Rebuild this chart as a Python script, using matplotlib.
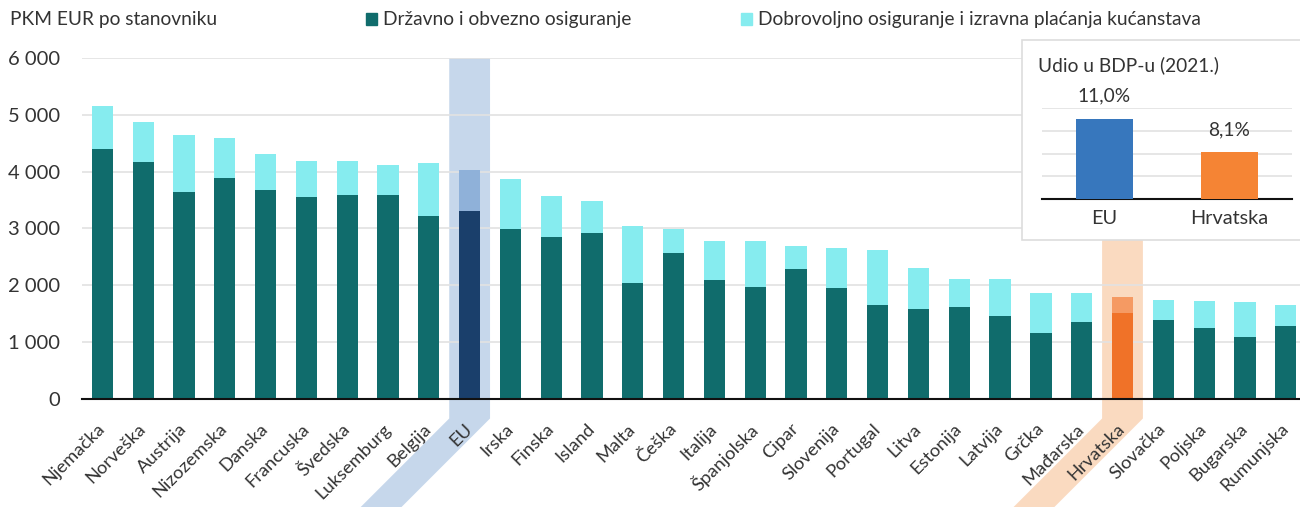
import matplotlib.pyplot as plt
from matplotlib.patches import Polygon, Rectangle, Patch
from matplotlib.transforms import IdentityTransform

plt.rcParams['font.family'] = ['Lato', 'DejaVu Sans']
plt.rcParams['text.color'] = '#333333'

zemlje = ['Njemačka', 'Norveška', 'Austrija', 'Nizozemska', 'Danska', 'Francuska',
          'Švedska', 'Luksemburg', 'Belgija', 'EU', 'Irska', 'Finska', 'Island',
          'Malta', 'Češka', 'Italija', 'Španjolska', 'Cipar', 'Slovenija',
          'Portugal', 'Litva', 'Estonija', 'Latvija', 'Grčka', 'Mađarska',
          'Hrvatska', 'Slovačka', 'Poljska', 'Bugarska', 'Rumunjska']
drzavno = [4400, 4170, 3640, 3890, 3680, 3555, 3595, 3590, 3225, 3305, 2990, 2850,
           2920, 2030, 2570, 2095, 1970, 2280, 1955, 1650, 1575, 1615, 1455, 1155,
           1345, 1515, 1380, 1245, 1090, 1285]
dobrovoljno = [760, 705, 1015, 705, 640, 640, 600, 535, 935, 725, 880, 730, 570,
               1020, 420, 690, 810, 405, 705, 975, 725, 500, 645, 705, 515, 270,
               350, 480, 610, 365]
yticks = [0, 1000, 2000, 3000, 4000, 5000, 6000]
ytick_labels = ['0', '1 000', '2 000', '3 000', '4 000', '5 000', '6 000']

bdp_labels = ['EU', 'Hrvatska']
bdp_udio = [11.0, 8.1]
bdp_text = ['11,0%', '8,1%']

TEAL = '#106c6c'
CYAN = '#86ecef'
dark_cols = {'EU': '#1a3f6b', 'Hrvatska': '#f07228'}
light_cols = {'EU': '#8fb1d9', 'Hrvatska': '#f59a63'}
band_cols = {'EU': '#c3d5ea', 'Hrvatska': '#fad8bd'}
FS = 13.8

W, H = 1300, 507
fig = plt.figure(figsize=(W / 100, H / 100), dpi=100)
ax = fig.add_axes([82 / W, 1 - 398.5 / H, 1 - 82 / W, (398.5 - 58.3) / H])

x = list(range(len(zemlje)))
c1 = [dark_cols.get(z, TEAL) for z in zemlje]
c2 = [light_cols.get(z, CYAN) for z in zemlje]
ax.bar(x, drzavno, width=0.52, color=c1, zorder=3)
ax.bar(x, dobrovoljno, bottom=drzavno, width=0.52, color=c2, zorder=3)

ax.set_xlim(-0.5, 29.35)
ax.set_ylim(0, 6000)
ax.set_yticks(yticks)
ax.set_yticklabels(ytick_labels, fontsize=14.5, color='#333333')
ax.set_xticks(x)
ax.set_xticklabels(zemlje, rotation=45, ha='right', va='center',
                   rotation_mode='anchor', fontsize=13.2, color='#333333')
ax.tick_params(axis='x', length=0, pad=20)
ax.tick_params(axis='y', length=0, pad=16)
ax.grid(axis='y', color='#e2e2e2', linewidth=1.2, zorder=0)
for s in ['top', 'right', 'left']:
    ax.spines[s].set_visible(False)
ax.spines['bottom'].set_color('#111111')
ax.spines['bottom'].set_linewidth(1.5)
ax.spines['bottom'].set_zorder(4)

# highlight bands, vertical then a 45 degree tail under the label
fig.canvas.draw()
for z in ['EU', 'Hrvatska']:
    i = zemlje.index(z)
    x0, ytop = ax.transData.transform((i - 0.5, 6000))
    x1, ybase = ax.transData.transform((i + 0.5, 0))
    knee = ybase - 20
    verts = [(x0, ytop), (x1, ytop), (x1, knee), (x1 - knee, 0),
             (x0 - knee, 0), (x0, knee)]
    band = Polygon(verts, closed=True, transform=IdentityTransform(),
                   facecolor=band_cols[z], edgecolor='none', alpha=0.95,
                   zorder=1, clip_on=False)
    ax.add_artist(band)

# legend / unit
fig.text(10 / W, 1 - 20 / H, 'PKM EUR po stanovniku', fontsize=FS, va='center')
handles = [Patch(color=TEAL, label='Državno i obvezno osiguranje'),
           Patch(color=CYAN, label='Dobrovoljno osiguranje i izravna plaćanja kućanstava')]
fig.legend(handles=handles, loc='center left', bbox_to_anchor=(358 / W, 1 - 20 / H),
           ncol=2, frameon=False, fontsize=FS, handlelength=0.6, handleheight=0.6,
           handletextpad=0.3, columnspacing=5.7, borderaxespad=0)

# inset box
box = Rectangle((1022 / W, 1 - 240 / H), (W - 1022) / W + 0.01, 200 / H,
                transform=fig.transFigure, facecolor='white', edgecolor='#dddddd',
                linewidth=1.2, zorder=5)
fig.patches.append(box)
fig.text(1038 / W, 1 - 65 / H, 'Udio u BDP-u (2021.)', fontsize=FS, va='center',
         zorder=6)

ins = fig.add_axes([1042 / W, 1 - 199.3 / H, 250 / W, (199.3 - 107.7) / H],
                   zorder=6)
ins.patch.set_alpha(0)
ins.bar([0, 1], bdp_udio, width=0.46, color=['#3777bd', '#f58434'], zorder=3)
ins.set_ylim(4, 12)
ins.set_xlim(-0.5, 1.5)
ins.set_yticks([6, 8, 10, 12])
ins.set_yticklabels([])
ins.tick_params(axis='y', length=0)
ins.grid(axis='y', color='#e2e2e2', linewidth=1.2, zorder=0)
ins.set_xticks([0, 1])
ins.set_xticklabels(bdp_labels, fontsize=FS + 0.5, color='#333333')
ins.tick_params(axis='x', length=0, pad=8)
for s in ['top', 'right', 'left']:
    ins.spines[s].set_visible(False)
ins.spines['bottom'].set_color('#111111')
ins.spines['bottom'].set_linewidth(1.5)
for i, (v, t) in enumerate(zip(bdp_udio, bdp_text)):
    ins.text(i, v + 2.0, t, ha='center', va='center', fontsize=FS,
             clip_on=False)

fig.savefig('out.png', dpi=100)
